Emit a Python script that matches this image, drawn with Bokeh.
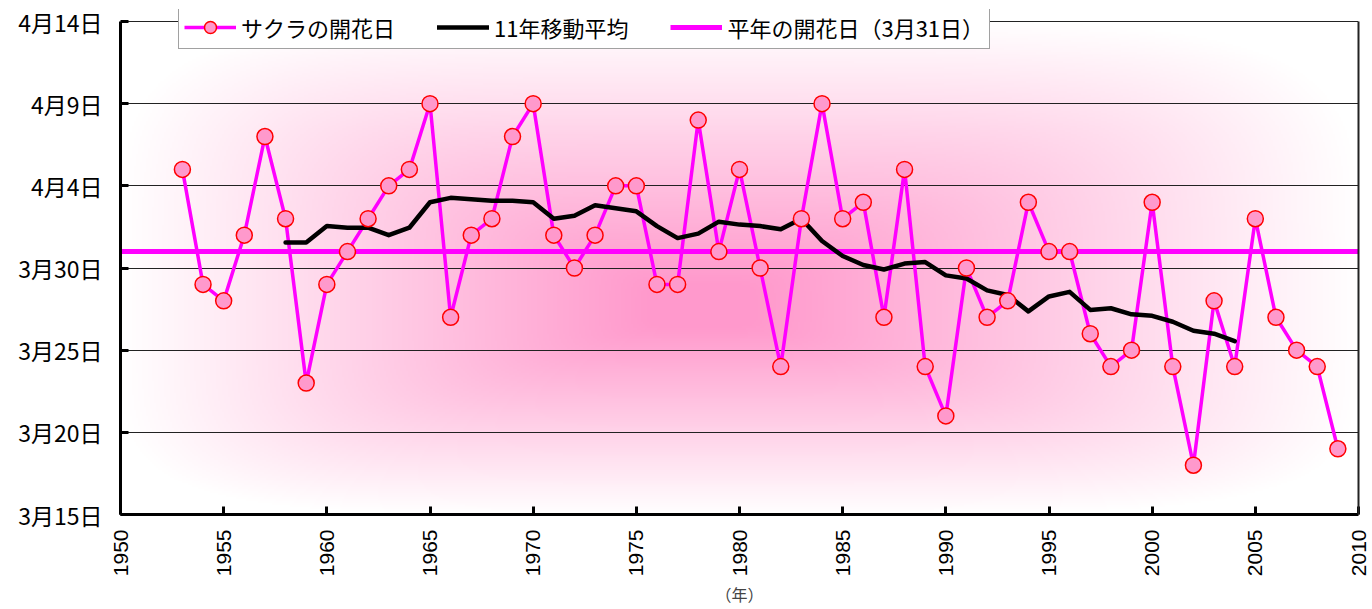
import math
import numpy as np
from bokeh.plotting import figure
from bokeh.models import FixedTicker, Legend, LegendItem, Range1d, LinearAxis
from bokeh.embed import file_html
from bokeh.resources import INLINE

# ---- data (day-of-March: 32 = 4月1日) ----
years = list(range(1953, 2010))
bloom_day = [36, 29, 28, 32, 38, 33, 23, 29, 31, 33,
             35, 36, 40, 27, 32, 33, 38, 40, 32, 30,
             32, 35, 35, 29, 29, 39, 31, 36, 30, 24,
             33, 40, 33, 34, 27, 36, 24, 21, 30, 27,
             28, 34, 31, 31, 26, 24, 25, 34, 24, 18,
             28, 24, 33, 27, 25, 24, 19]
ma_years = list(range(1958, 2005))
ma_day = [31.55, 31.55, 32.55, 32.45, 32.45, 32.00, 32.45, 34.00, 34.27, 34.18,
          34.09, 34.09, 34.00, 33.00, 33.18, 33.82, 33.64, 33.45, 32.55, 31.82,
          32.09, 32.82, 32.64, 32.55, 32.36, 33.00, 31.64, 30.73, 30.18, 29.91,
          30.27, 30.36, 29.55, 29.36, 28.64, 28.36, 27.36, 28.27, 28.55, 27.45,
          27.55, 27.18, 27.09, 26.73, 26.18, 26.00, 25.55]
normal_day = [31, 31]
x_min, x_max = 1950, 2010
y_min, y_max = 15, 45
y_ticks = [15, 20, 25, 30, 35, 40, 45]
y_labels = ["3月15日", "3月20日", "3月25日", "3月30日", "4月4日", "4月9日", "4月14日"]
x_ticks = list(range(1950, 2011, 5))

JP = "Noto Sans CJK JP"
# extra head-room above 4月14日 so the legend (which straddles the top border) is not clipped
y_top = y_max + 12 / 16.43

p = figure(width=1372, height=609,
           x_range=Range1d(x_min, x_max), y_range=Range1d(y_min, y_top),
           output_backend="svg", toolbar_location=None,
           min_border_left=120, min_border_right=14, min_border_top=9, min_border_bottom=95,
           background_fill_color="white", border_fill_color="white")

# ---- pink radial background ----
nx, ny = 620, 250
gx = np.linspace(x_min, x_max, nx)
gy = np.linspace(y_min, y_max, ny)
X, Y = np.meshgrid(gx, gy)
cx, cy = 1978.0, 27.5
dx = np.where(X < cx, (cx - X) / (cx - x_min), (X - cx) / (x_max - cx))
dy = np.where(Y < cy, (cy - Y) / (cy - y_min), (Y - cy) / (y_max - cy))
t = (dx ** 5 + dy ** 5) ** (1 / 5)
a = np.clip((1 - t) / 0.92, 0, 1)
img = np.empty((ny, nx), dtype=np.uint32)
view = img.view(dtype=np.uint8).reshape((ny, nx, 4))
view[..., 0] = 255
view[..., 1] = (255 - a * (255 - 153)).astype(np.uint8)
view[..., 2] = (255 - a * (255 - 204)).astype(np.uint8)
view[..., 3] = 255
p.image_rgba(image=[img], x=x_min, y=y_min, dw=x_max - x_min, dh=y_max - y_min, level="image")

# ---- glyphs ----
r_norm = p.line([x_min, x_max], normal_day, line_color="#FF00FF", line_width=5)
r_line = p.line(years, bloom_day, line_color="#FF00FF", line_width=3.5)
r_ma = p.line(ma_years, ma_day, line_color="black", line_width=4.5, line_join="round", line_cap="round")
r_pts = p.scatter(years, bloom_day, size=16, fill_color="#FF99CC", line_color="red", line_width=1.5)

# ---- axes ----
for ax in (p.xaxis[0], p.yaxis[0]):
    ax.axis_line_width = 3
    ax.axis_line_color = "black"
    ax.major_tick_in = 8
    ax.major_tick_out = 0
    ax.major_tick_line_width = 3
    ax.major_tick_line_color = "black"
    ax.minor_tick_line_color = None
    ax.major_label_text_color = "black"

p.yaxis.bounds = (y_min, y_max)
p.yaxis.ticker = FixedTicker(ticks=y_ticks)
p.yaxis.major_label_overrides = {k: v for k, v in zip(y_ticks, y_labels)}
p.yaxis.major_label_text_font = JP
p.yaxis.major_label_text_font_size = "23px"
p.yaxis.major_label_standoff = 18

p.xaxis.ticker = FixedTicker(ticks=x_ticks)
p.xaxis.major_label_orientation = math.pi / 2
p.xaxis.major_label_text_font = "Liberation Sans"
p.xaxis.major_label_text_font_size = "21px"
p.xaxis.major_label_standoff = 15
p.xaxis.axis_label = "（年）"
p.xaxis.axis_label_text_font = JP
p.xaxis.axis_label_text_font_size = "16px"
p.xaxis.axis_label_text_font_style = "normal"
p.xaxis.axis_label_standoff = 3

# right border line (only up to 4月14日)
right = LinearAxis(bounds=(y_min, y_max), ticker=FixedTicker(ticks=[]),
                   axis_line_color="#222222", axis_line_width=2,
                   major_tick_line_color=None, minor_tick_line_color=None,
                   major_label_text_font_size="0px", major_label_standoff=0)
p.add_layout(right, "right")

p.xgrid.visible = False
p.ygrid.ticker = FixedTicker(ticks=y_ticks)
p.ygrid.grid_line_color = "#222222"
p.ygrid.grid_line_width = 1

p.outline_line_color = None

legend = Legend(items=[
    LegendItem(label="サクラの開花日", renderers=[r_line, r_pts]),
    LegendItem(label="11年移動平均", renderers=[r_ma]),
    LegendItem(label="平年の開花日（3月31日）", renderers=[r_norm]),
], orientation="horizontal", location=(58, 465),
    label_text_font=JP, label_text_font_size="22px", label_text_color="black",
    glyph_width=52, glyph_height=30, label_height=30, label_standoff=5,
    spacing=42, padding=5, margin=0,
    border_line_color="#444444", border_line_width=1.5,
    background_fill_color="white", background_fill_alpha=1)
p.add_layout(legend)

open("out.html", "w").write(file_html(p, INLINE))
